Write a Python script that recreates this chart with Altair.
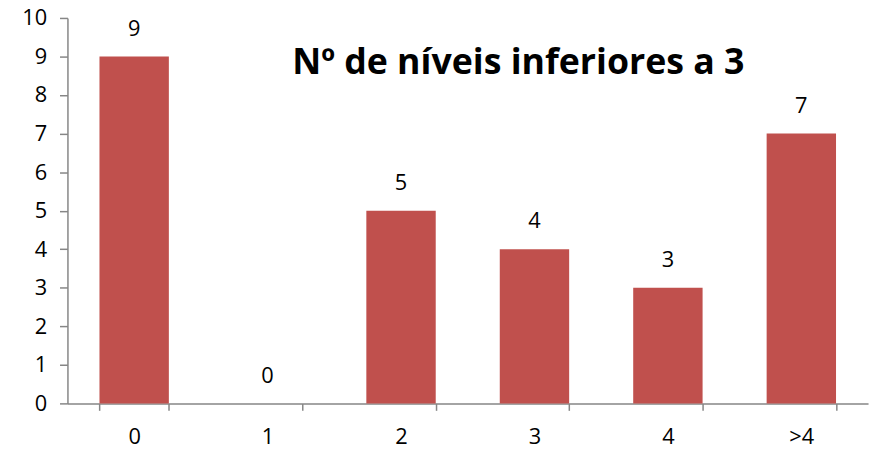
import altair as alt
import pandas as pd

categories = ["0", "1", "2", "3", "4", ">4"]
values = [9, 0, 5, 4, 3, 7]
title_text = "Nº de níveis inferiores a 3"

df = pd.DataFrame({"cat": categories, "val": values})

FONT = "Open Sans"
AXIS_GRAY = "#868686"
LABEL_SIZE = 22

x = alt.X("cat:N", sort=categories, title=None,
          scale=alt.Scale(paddingInner=0.48, paddingOuter=0.24),
          axis=alt.Axis(labelAngle=0, tickBand="extent", domainColor=AXIS_GRAY,
                        tickColor=AXIS_GRAY, tickSize=7, labelPadding=16,
                        labelFontSize=LABEL_SIZE, labelFont=FONT, labelColor="black",
                        domainWidth=1.5, tickWidth=1.5, labelOverlap=False))
y = alt.Y("val:Q", title=None,
          scale=alt.Scale(domain=[0, 10]),
          axis=alt.Axis(values=list(range(0, 11)), grid=False, domainColor=AXIS_GRAY,
                        tickColor=AXIS_GRAY, tickSize=8, labelPadding=13,
                        labelFontSize=LABEL_SIZE, labelFont=FONT, labelColor="black",
                        domainWidth=1.5, tickWidth=1.5, labelOverlap=False,
                        labelFlush=False))

base = alt.Chart(df).encode(x=x, y=y)
bars = base.mark_bar(color="#C0504D")
labels = base.mark_text(dy=-16, baseline="bottom", fontSize=LABEL_SIZE, font=FONT, color="black").encode(
    text="val:Q")

title = alt.Chart(pd.DataFrame({"t": [title_text]})).mark_text(
    fontSize=36, fontWeight="bold", font=FONT, color="black", align="center", baseline="middle"
).encode(x=alt.value(455), y=alt.value(46), text="t:N")

chart = alt.layer(bars, labels, title).properties(
    width=808, height=389,
    autosize=alt.AutoSizeParams(type="none"),
    padding={"left": 60, "top": 8, "right": 5, "bottom": 45},
).configure_view(stroke=None)

chart.save("out.html", embed_options={"renderer": "svg", "actions": False})
